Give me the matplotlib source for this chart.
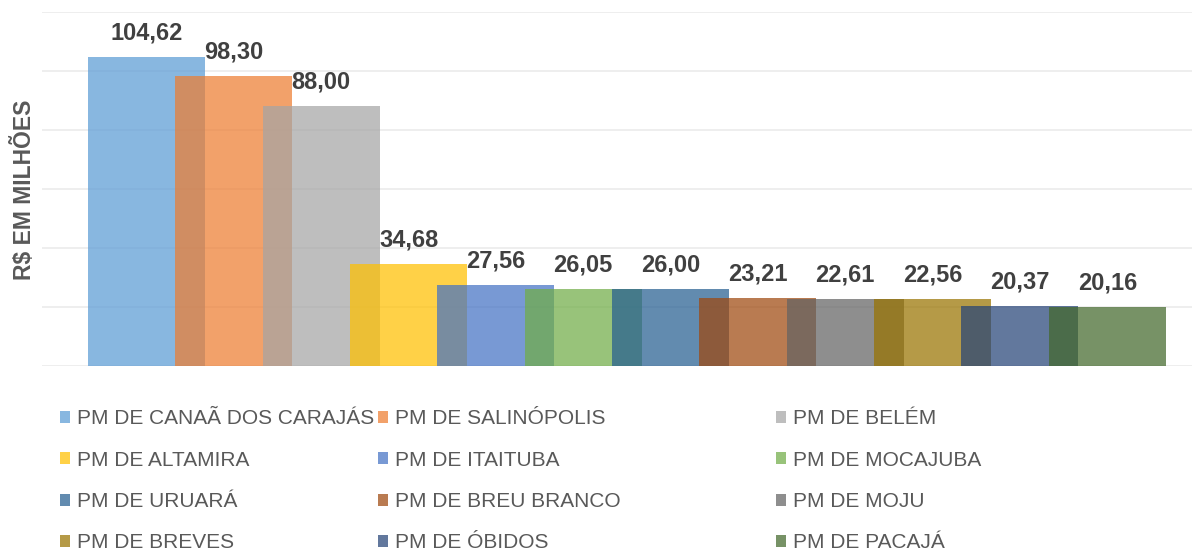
import matplotlib.pyplot as plt
from matplotlib.patches import Patch

# dados
municipios = ["PM DE CANAÃ DOS CARAJÁS", "PM DE SALINÓPOLIS", "PM DE BELÉM",
              "PM DE ALTAMIRA", "PM DE ITAITUBA", "PM DE MOCAJUBA",
              "PM DE URUARÁ", "PM DE BREU BRANCO", "PM DE MOJU",
              "PM DE BREVES", "PM DE ÓBIDOS", "PM DE PACAJÁ"]
valores = [104.62, 98.30, 88.00, 34.68, 27.56, 26.05,
           26.00, 23.21, 22.61, 22.56, 20.37, 20.16]
cores = ["#5B9BD5", "#ED7D31", "#A5A5A5", "#FFC000", "#4472C4", "#70AD47",
         "#255E91", "#9E480E", "#636363", "#997300", "#264478", "#43682B"]

plt.rcParams['font.family'] = ['Liberation Sans', 'DejaVu Sans']

W, H = 1192, 554
fig = plt.figure(figsize=(W / 100, H / 100), dpi=100)
ax = fig.add_axes([42 / W, (H - 366) / H, (W - 42) / W, (366 - 12) / H])

ALPHA = 0.72
for i, (v, c) in enumerate(zip(valores, cores)):
    ax.bar(i, v, width=1.34, color=c, alpha=ALPHA, linewidth=0,
           zorder=2 + i * 0.01)
    ax.annotate(f"{v:.2f}".replace(".", ","), (i, v), xytext=(0, 24),
                textcoords="offset pixels", ha="center", va="center",
                fontsize=17, fontweight="bold", color="#404040", zorder=5)

ax.set_ylim(0, 120)
ax.set_xlim(-1.197, 11.97)
ax.set_yticks(range(0, 121, 20))
ax.grid(axis="y", color="#EBEBEB", linewidth=1.2, zorder=0)
ax.tick_params(left=False, bottom=False, labelleft=False, labelbottom=False)
for s in ax.spines.values():
    s.set_visible(False)

fig.text(24 / W, 1 - 190 / H, "R$ EM MILHÕES", rotation=90, ha="center",
         va="center", fontsize=16.5, fontweight="bold", color="#595959")

# legenda em 3 colunas (ordem por linha)
col_x = [60, 378, 776]
for col in range(3):
    idx = list(range(col, 12, 3))
    handles = [Patch(facecolor=cores[k], alpha=ALPHA, linewidth=0) for k in idx]
    labels = [municipios[k] for k in idx]
    fig.legend(handles, labels, loc="upper left",
               bbox_to_anchor=(col_x[col] / W, 1 - 409 / H),
               frameon=False, fontsize=15, handlelength=0.5,
               handleheight=0.5, handletextpad=0.3, labelspacing=1.08,
               borderpad=0, borderaxespad=0, labelcolor="#595959")

fig.savefig("out.png", dpi=100)
